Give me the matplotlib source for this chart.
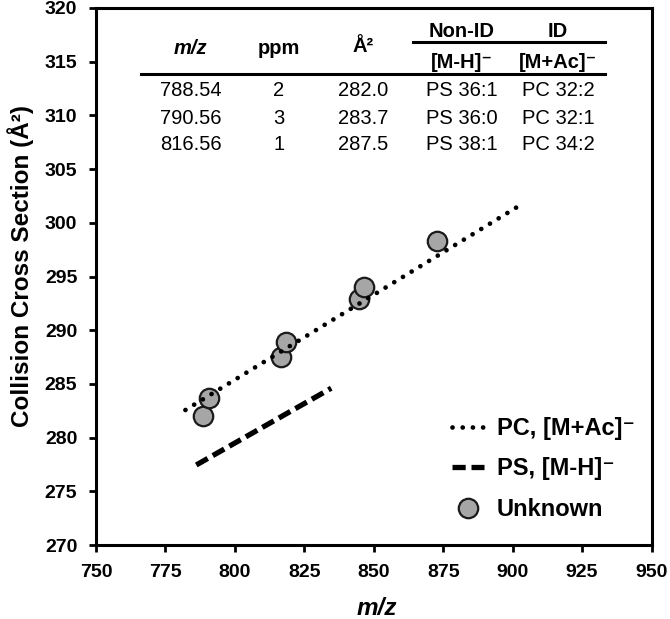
import matplotlib
matplotlib.use("Agg")
import matplotlib.pyplot as plt
from matplotlib.lines import Line2D

plt.rcParams['font.family'] = ['Liberation Sans', 'DejaVu Sans']

# ---- data ----
unknown_mz = [788.54, 790.56, 816.56, 818.5, 844.6, 846.5, 872.6]
unknown_ccs = [282.0, 283.7, 287.5, 288.9, 292.9, 294.0, 298.3]

pc_mz = [782.2, 903.4]
pc_ccs = [282.57, 301.75]
ps_mz = [786.1, 834.7]
ps_ccs = [277.45, 284.6]

xticks = [750, 775, 800, 825, 850, 875, 900, 925, 950]
yticks = [270, 275, 280, 285, 290, 295, 300, 305, 310, 315, 320]

tbl_mz = ["788.54", "790.56", "816.56"]
tbl_ppm = ["2", "3", "1"]
tbl_ccs = ["282.0", "283.7", "287.5"]
tbl_nonid = ["PS 36:1", "PS 36:0", "PS 38:1"]
tbl_id = ["PC 32:2", "PC 32:1", "PC 34:2"]

W, H = 670, 619
fig = plt.figure(figsize=(W / 100, H / 100), dpi=100)
ax = fig.add_axes([96 / W, 1 - 545 / H, (651.5 - 96) / W, (545 - 8) / H])

def px(x, y):
    return x / W, 1 - y / H

# markers (below lines)
ax.plot(unknown_mz, unknown_ccs, linestyle='none', marker='o', markersize=14,
        markerfacecolor='#a6a6a6', markeredgecolor='#1a1a1a', markeredgewidth=1.6,
        zorder=2, label='Unknown')
pc_line, = ax.plot(pc_mz, pc_ccs, color='black', lw=3.4, linestyle=(0, (0.01, 2.15)),
                   dash_capstyle='round', zorder=3, label='PC, [M+Ac]\u207b')
ps_line, = ax.plot(ps_mz, ps_ccs, color='black', lw=3.8, linestyle=(0, (2.5, 1.1)),
                   dash_capstyle='butt', zorder=3, label='PS, [M-H]\u207b')

ax.set_xlim(750, 950)
ax.set_ylim(270, 320)
ax.set_xticks(xticks)
ax.set_yticks(yticks)
ax.tick_params(axis='both', direction='out', length=5, width=2, pad=8.5,
               labelsize=14)
for lab in ax.get_xticklabels() + ax.get_yticklabels():
    lab.set_fontweight('bold')
for sp in ax.spines.values():
    sp.set_linewidth(2.2)

ax.set_xlabel('m/z', fontsize=17.5, fontweight='bold', fontstyle='italic', va='center')
ax.xaxis.set_label_coords(0.505, -0.119)
ax.set_ylabel('Collision Cross Section (\u00c5\u00b2)', fontsize=17.5, fontweight='bold',
              va='center')
ax.yaxis.set_label_coords(-0.135, 0.52)

handles = [pc_line, ps_line, ax.lines[0]]
leg = ax.legend(handles=handles, labels=[h.get_label() for h in handles],
                loc='center left', bbox_to_anchor=px(452, 469),
                bbox_transform=fig.transFigure, frameon=False,
                prop={'size': 17, 'weight': 'bold'}, handlelength=1.35,
                handletextpad=0.55, labelspacing=0.75, borderpad=0,
                borderaxespad=0, numpoints=1)

# ---- table ----
fs = 14.5
col_x = [190.7, 279, 363, 461.7, 558]
fig.text(*px(col_x[0], 49), 'm/z', fontsize=fs, fontweight='bold', fontstyle='italic',
         ha='center', va='center')
fig.text(*px(col_x[1], 49), 'ppm', fontsize=fs, fontweight='bold', ha='center', va='center')
fig.text(*px(col_x[2], 47), '\u00c5\u00b2', fontsize=fs, fontweight='bold', ha='center', va='center')
fig.text(*px(col_x[3], 31.7), 'Non-ID', fontsize=fs, fontweight='bold', ha='center', va='center')
fig.text(*px(col_x[4], 31.7), 'ID', fontsize=fs, fontweight='bold', ha='center', va='center')
fig.text(*px(col_x[3], 62.3), '[M-H]\u207b', fontsize=fs, fontweight='bold', ha='center', va='center')
fig.text(*px(col_x[4], 62.3), '[M+Ac]\u207b', fontsize=fs, fontweight='bold', ha='center', va='center')

x0, y0 = px(413, 42.3)
x1, _ = px(605, 42.3)
fig.add_artist(Line2D([x0, x1], [y0, y0], transform=fig.transFigure, color='black', lw=2.2))
x0, y0 = px(140.7, 74)
fig.add_artist(Line2D([x0, x1], [y0, y0], transform=fig.transFigure, color='black', lw=2.2))

row_y = [91, 118.3, 145]
cols = [tbl_mz, tbl_ppm, tbl_ccs, tbl_nonid, tbl_id]
for cx, col in zip(col_x, cols):
    for ry, val in zip(row_y, col):
        fig.text(*px(cx, ry), val, fontsize=fs, ha='center', va='center')

fig.savefig('out.png', dpi=100)
